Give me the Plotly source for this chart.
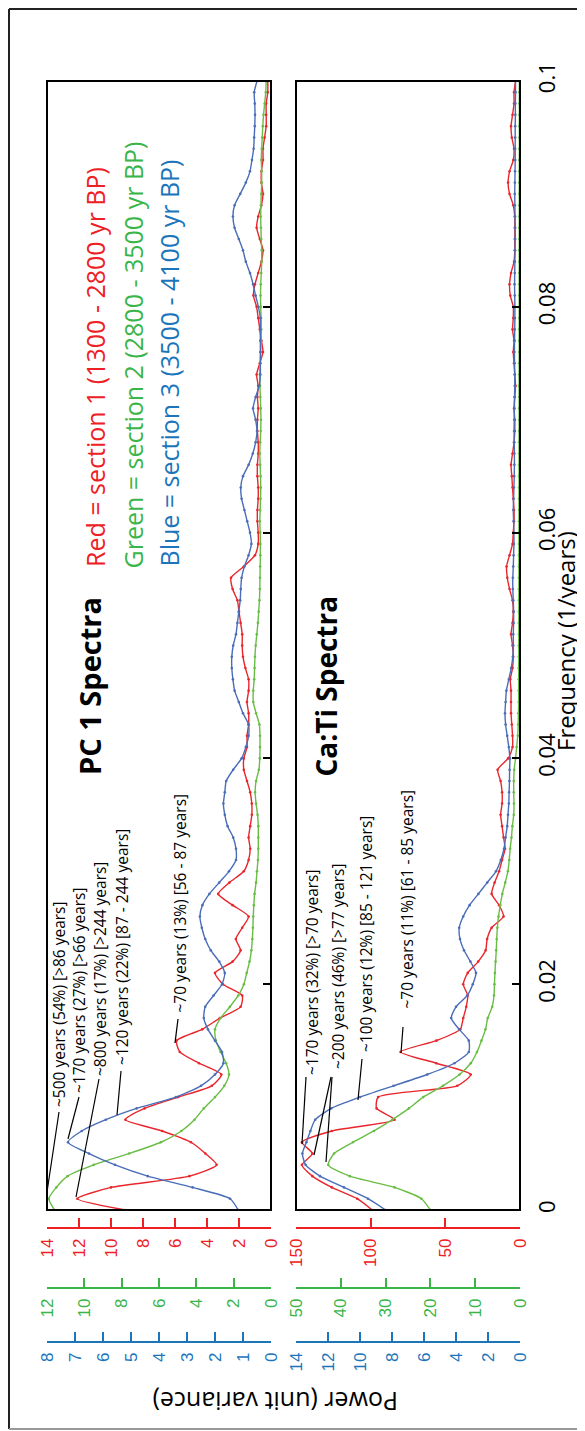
import plotly.graph_objects as go

# ---------------- data ----------------
FREQ = [0.000, 0.001, 0.002, 0.003, 0.004, 0.005, 0.006, 0.007, 0.008, 0.009,
        0.010, 0.011, 0.012, 0.013, 0.014, 0.015, 0.016, 0.017, 0.018, 0.019,
        0.020, 0.021, 0.022, 0.023, 0.024, 0.025, 0.026, 0.027, 0.028, 0.029,
        0.030, 0.031, 0.032, 0.033, 0.034, 0.035, 0.036, 0.037, 0.038, 0.039,
        0.040, 0.041, 0.042, 0.043, 0.044, 0.045, 0.046, 0.047, 0.048, 0.049,
        0.050, 0.051, 0.052, 0.053, 0.054, 0.055, 0.056, 0.057, 0.058, 0.059,
        0.060, 0.061, 0.062, 0.063, 0.064, 0.065, 0.066, 0.067, 0.068, 0.069,
        0.070, 0.071, 0.072, 0.073, 0.074, 0.075, 0.076, 0.077, 0.078, 0.079,
        0.080, 0.081, 0.082, 0.083, 0.084, 0.085, 0.086, 0.087, 0.088, 0.089,
        0.090, 0.091, 0.092, 0.093, 0.094, 0.095, 0.096, 0.097, 0.098, 0.099,
        0.100]

# PC 1 spectra
PC1_RED = [9.1, 12.1, 10.0, 5.1, 3.4, 4.1, 5.0, 6.8, 9.1, 7.9,
           5.8, 3.7, 3.1, 4.5, 5.7, 5.9, 4.3, 3.2, 1.9, 1.8,
           3.0, 3.5, 2.4, 1.9, 2.2, 1.8, 1.4, 2.4, 3.3, 2.6,
           1.7, 1.4, 1.3, 1.4, 1.3, 1.2, 1.2, 1.3, 1.5, 1.7,
           1.7, 1.5, 1.5, 1.4, 1.4, 1.5, 1.4, 1.4, 1.6, 1.75,
           1.8, 1.8, 1.9, 2.0, 2.1, 2.4, 2.5, 1.7, 1.0, 0.8,
           0.8, 0.85, 0.85, 0.8, 0.8, 0.85, 0.85, 0.8, 0.8, 0.85,
           0.85, 0.8, 0.85, 0.8, 0.9, 0.7, 0.5, 0.6, 0.7, 0.8,
           0.9, 1.1, 1.0, 0.8, 0.6, 0.5, 0.7, 0.9, 0.8, 0.6,
           0.5, 0.6, 0.6, 0.5, 0.5, 0.4, 0.3, 0.3, 0.3, 0.2,
           0.2]
PC1_GREEN = [11.6, 11.9, 11.5, 10.9, 9.5, 7.6, 5.9, 4.8, 4.1, 3.6,
             3.0, 2.5, 2.25, 2.4, 2.7, 2.95, 3.0, 2.7, 2.2, 1.75,
             1.45, 1.3, 1.15, 1.05, 1.0, 0.97, 0.95, 0.92, 0.88, 0.8,
             0.75, 0.7, 0.68, 0.68, 0.68, 0.72, 0.8, 0.85, 0.8, 0.65,
             0.6, 0.59, 0.59, 0.62, 0.8, 0.95, 0.95, 0.9, 0.88, 0.86,
             0.82, 0.76, 0.7, 0.66, 0.62, 0.6, 0.59, 0.58, 0.57, 0.57,
             0.58, 0.6, 0.58, 0.56, 0.55, 0.56, 0.58, 0.6, 0.58, 0.55,
             0.54, 0.55, 0.57, 0.59, 0.6, 0.58, 0.55, 0.53, 0.52, 0.53,
             0.55, 0.56, 0.55, 0.52, 0.5, 0.5, 0.52, 0.54, 0.55, 0.54,
             0.52, 0.5, 0.5, 0.52, 0.5, 0.47, 0.44, 0.4, 0.34, 0.28,
             0.26]
PC1_BLUE = [1.17, 1.46, 2.8, 4.4, 5.57, 6.5, 7.25, 6.76, 5.9, 4.8,
            3.4, 2.5, 2.0, 1.7, 1.75, 2.0, 2.25, 2.4, 2.35, 2.05,
            1.75, 1.65, 1.85, 2.15, 2.35, 2.47, 2.54, 2.45, 2.2, 1.85,
            1.5, 1.25, 1.25, 1.35, 1.55, 1.65, 1.7, 1.65, 1.6, 1.35,
            1.05, 0.9, 0.8, 0.8, 1.0, 1.15, 1.3, 1.36, 1.4, 1.4,
            1.35, 1.25, 1.2, 1.15, 1.1, 1.08, 1.05, 0.95, 0.8, 0.7,
            0.75, 0.85, 0.95, 1.05, 1.08, 1.0, 0.8, 0.65, 0.55, 0.5,
            0.55, 0.64, 0.55, 0.42, 0.38, 0.38, 0.38, 0.38, 0.38, 0.38,
            0.45, 0.55, 0.64, 0.75, 0.9, 1.0, 1.15, 1.3, 1.36, 1.3,
            1.1, 0.9, 0.75, 0.68, 0.62, 0.6, 0.58, 0.57, 0.58, 0.6,
            0.5]

# Ca:Ti spectra
CATI_RED = [99, 109, 126, 139, 146, 139, 146, 126, 84, 96,
            95, 42, 33, 56, 80, 56, 40, 38, 36, 35,
            38, 35, 28, 23, 22, 19, 11, 14, 19, 17,
            14, 12, 10, 11, 12, 13, 12, 12, 13, 15,
            8, 5, 5, 5.5, 6, 6, 6, 6.5, 5, 4.5,
            5, 6, 5, 4.5, 5, 7, 8.5, 9, 7, 5,
            4.5, 4, 4, 4.5, 5, 5.5, 6, 5, 4, 3.5,
            3.5, 4, 3.5, 3, 3.5, 4, 4.5, 4, 5, 4.5,
            4.5, 6.5, 7, 6, 4, 3.5, 3.5, 3.5, 3.5, 4.5,
            7, 8, 7, 4.5, 4, 5.5, 6, 5, 4, 4,
            3]
CATI_GREEN = [20, 22, 28, 38, 42.8, 41.5, 37.3, 32.6, 28.5, 24.8,
              21.6, 17.2, 13.5, 11, 9.6, 8.6, 7.7, 7.2, 6.2, 5.8,
              5.7, 5.6, 5.45, 5.3, 5.2, 5.05, 4.8, 4.4, 3.95, 3.3,
              2.7, 2.4, 2.2, 1.9, 1.7, 1.4, 1.35, 1.4, 1.4, 1.3,
              1.0, 0.75, 0.5, 0.4, 0.35, 0.3, 0.3, 0.3, 0.3, 0.28,
              0.28, 0.27, 0.27, 0.26, 0.26, 0.25, 0.25, 0.25, 0.24, 0.24,
              0.24, 0.23, 0.23, 0.23, 0.22, 0.22, 0.22, 0.21, 0.21, 0.21,
              0.2, 0.2, 0.2, 0.2, 0.2, 0.19, 0.19, 0.19, 0.19, 0.18,
              0.18, 0.18, 0.18, 0.18, 0.17, 0.17, 0.17, 0.17, 0.17, 0.16,
              0.16, 0.16, 0.16, 0.16, 0.15, 0.15, 0.15, 0.15, 0.15, 0.15,
              0.15]
CATI_BLUE = [8.4, 9.5, 11.0, 12.5, 13.4, 13.6, 13.35, 13.1, 12.8, 11.8,
             10.0, 7.9, 5.8, 4.1, 3.2, 3.2, 3.8, 4.3, 4.0, 3.3,
             2.95, 2.75, 3.1, 3.5, 3.75, 3.8, 3.55, 3.15, 2.6, 2.05,
             1.5, 1.2, 1.0, 0.9, 0.8, 0.75, 0.7, 0.68, 0.66, 0.65,
             0.63, 0.7, 0.8, 0.9, 0.94, 0.9, 0.85, 0.7, 0.55, 0.45,
             0.42, 0.42, 0.4, 0.4, 0.42, 0.45, 0.45, 0.42, 0.4, 0.38,
             0.38, 0.4, 0.42, 0.4, 0.38, 0.36, 0.35, 0.35, 0.36, 0.37,
             0.36, 0.35, 0.34, 0.33, 0.33, 0.34, 0.35, 0.34, 0.33, 0.32,
             0.32, 0.33, 0.34, 0.33, 0.32, 0.31, 0.3, 0.3, 0.31, 0.32,
             0.33, 0.32, 0.31, 0.3, 0.3, 0.3, 0.3, 0.29, 0.29, 0.28,
             0.28]

FREQ_TICKS = [0, 0.02, 0.04, 0.06, 0.08, 0.1]
FREQ_TICKTEXT = ["0", "0.02", "0.04", "0.06", "0.08", "0.1"]
PC1_RED_TICKS = [0, 2, 4, 6, 8, 10, 12, 14]
PC1_GREEN_TICKS = [0, 2, 4, 6, 8, 10, 12]
PC1_BLUE_TICKS = [0, 1, 2, 3, 4, 5, 6, 7, 8]
CATI_RED_TICKS = [0, 50, 100, 150]
CATI_GREEN_TICKS = [0, 10, 20, 30, 40, 50]
CATI_BLUE_TICKS = [0, 2, 4, 6, 8, 10, 12, 14]

LEGEND_LINES = ["Red = section 1 (1300 - 2800 yr BP)",
                "Green = section 2 (2800 - 3500 yr BP)",
                "Blue = section 3 (3500 - 4100 yr BP)"]
PC1_LABELS = ["~500 years (54%) [>86 years]",
              "~170 years (27%) [>66 years]",
              "~800 years (17%) [>244 years]",
              "~120 years (22%) [87 - 244 years]",
              "~70 years (13%) [56 - 87 years]"]
CATI_LABELS = ["~170 years (32%) [>70 years]",
               "~200 years (46%) [>77 years]",
               "~100 years (12%) [85 - 121 years]",
               "~70 years (11%) [61 - 85 years]"]

# ---------------- styling ----------------
# the page body adds an 8 px offset, so the figure is sized to fit the window
OFF = 8
W, H = 585 - OFF, 1431 - OFF
def PX(x):
    return (x - OFF) / W
def PY(y):
    return 1 - (y - OFF) / H

RED_AX, GREEN_AX, BLUE_AX = "#ED2024", "#3AB54A", "#1B75BB"
RED_LN, GREEN_LN, BLUE_LN = "#E8262C", "#69BD45", "#4A6DB8"
TXT_FONT = "Open Sans"
NUM_FONT = "Liberation Sans"

fig = go.Figure()

def add_series(xs, xaxis, yaxis, color):
    fig.add_trace(go.Scatter(
        x=xs, y=FREQ, xaxis=xaxis, yaxis=yaxis, mode="lines+markers",
        line=dict(color=color, width=1.4, shape="spline", smoothing=0.6),
        marker=dict(color=color, size=2.6), showlegend=False, hoverinfo="skip"))

add_series(PC1_GREEN, "x3", "y", GREEN_LN)
add_series(PC1_BLUE, "x4", "y", BLUE_LN)
add_series(PC1_RED, "x", "y", RED_LN)
add_series(CATI_GREEN, "x5", "y2", GREEN_LN)
add_series(CATI_BLUE, "x6", "y2", BLUE_LN)
add_series(CATI_RED, "x2", "y2", RED_LN)

LEFT_DOM = [PX(47), PX(271)]
RIGHT_DOM = [PX(296), PX(520)]
Y_DOM = [PY(1210), PY(81)]

def power_axis(color, rng, ticks, pos, domain=None, overlay=None):
    d = dict(range=rng, anchor="free", position=pos, side="bottom",
             showline=True, linecolor=color, linewidth=1.6,
             ticks="inside", ticklen=9, tickwidth=1.6, tickcolor=color,
             tickvals=ticks, ticktext=[str(t) for t in ticks],
             tickangle=-90, ticklabelstandoff=3,
             tickfont=dict(family=NUM_FONT, size=17, color=color),
             showgrid=False, zeroline=False, automargin=False)
    if domain is not None:
        d["domain"] = domain
    if overlay is not None:
        d["overlaying"] = overlay
    return d

layout = dict(
    template="none",
    width=W, height=H, margin=dict(l=0, r=0, t=0, b=0, pad=0, autoexpand=False),
    paper_bgcolor="white", plot_bgcolor="rgba(0,0,0,0)", showlegend=False,
    font=dict(family=TXT_FONT, color="black"),
    xaxis=power_axis(RED_AX, [14, 0], PC1_RED_TICKS, PY(1228), domain=LEFT_DOM),
    xaxis3=power_axis(GREEN_AX, [12, 0], PC1_GREEN_TICKS, PY(1288), overlay="x"),
    xaxis4=power_axis(BLUE_AX, [8, 0], PC1_BLUE_TICKS, PY(1342), overlay="x"),
    xaxis2=power_axis(RED_AX, [150, 0], CATI_RED_TICKS, PY(1228), domain=RIGHT_DOM),
    xaxis5=power_axis(GREEN_AX, [50, 0], CATI_GREEN_TICKS, PY(1288), overlay="x2"),
    xaxis6=power_axis(BLUE_AX, [14, 0], CATI_BLUE_TICKS, PY(1342), overlay="x2"),
    yaxis=dict(domain=Y_DOM, range=[0, 0.1], anchor="x", side="right",
               showline=False, ticks="inside", ticklen=8, tickwidth=1.5,
               tickcolor="black", tickvals=FREQ_TICKS, showticklabels=False,
               showgrid=False, zeroline=False, automargin=False),
    yaxis2=dict(domain=Y_DOM, range=[0, 0.1], anchor="x2", side="right",
                showline=False, ticks="inside", ticklen=8, tickwidth=1.5,
                tickcolor="black", tickvals=FREQ_TICKS, ticktext=FREQ_TICKTEXT,
                tickangle=-90, ticklabelstandoff=12,
                tickfont=dict(family=TXT_FONT, size=22, color="black"),
                showgrid=False, zeroline=False, automargin=False),
)
fig.update_layout(**layout)

shapes = [
    dict(type="rect", xref="x domain", yref="y domain", x0=0, x1=1, y0=0, y1=1,
         line=dict(color="black", width=2)),
    dict(type="rect", xref="x2 domain", yref="y2 domain", x0=0, x1=1, y0=0, y1=1,
         line=dict(color="black", width=2)),
    dict(type="line", xref="paper", yref="paper", x0=PX(9), x1=PX(9), y0=PY(9), y1=PY(1429),
         line=dict(color="#222", width=2)),
    dict(type="line", xref="paper", yref="paper", x0=PX(9), x1=1.0, y0=PY(9), y1=PY(9),
         line=dict(color="#222", width=2)),
    dict(type="line", xref="paper", yref="paper", x0=PX(9), x1=1.0, y0=PY(1429), y1=PY(1429),
         line=dict(color="#999", width=2)),
]

# leader lines (pixel positions of label foot -> spectral peak)
leaders = [
    ((59, 1112), (47, 1192)),
    ((79, 1097), (68, 1139)),
    ((99, 1079), (76, 1197)),
    ((121, 1071), (117, 1115)),
    ((178, 1019), (175, 1043)),
    ((306, 1077), (302, 1144)),
    ((331, 1077), (314, 1155)),
    ((332, 1077), (326, 1162)),
    ((362, 1059), (358, 1100)),
    ((403, 1027), (401, 1053)),
]
for (xa, ya), (xb, yb) in leaders:
    shapes.append(dict(type="line", xref="paper", yref="paper",
                       x0=PX(xa), y0=PY(ya), x1=PX(xb), y1=PY(yb),
                       line=dict(color="black", width=1.2)))
fig.update_layout(shapes=shapes)

ann = []
def text_at(txt, x, y, size, color="black", angle=-90, bold=False, xanchor="center",
            yanchor="bottom", family=TXT_FONT):
    t = "<b>%s</b>" % txt if bold else txt
    ann.append(dict(text=t, x=PX(x), y=PY(y), xref="paper", yref="paper",
                    showarrow=False, textangle=angle, xanchor=xanchor, yanchor=yanchor,
                    borderpad=0, font=dict(family=family, size=size, color=color)))

# legend block
text_at(LEGEND_LINES[0], 95, 568, 25, RED_AX)
text_at(LEGEND_LINES[1], 132, 570, 25, GREEN_AX)
text_at(LEGEND_LINES[2], 168, 568, 25, BLUE_AX)
# panel titles
text_at("PC 1 Spectra", 90, 776, 29, bold=True)
text_at("Ca:Ti Spectra", 325, 778, 28, bold=True)
# peak labels
for lab, (x, y) in zip(PC1_LABELS, [(59, 1108), (79, 1094), (100, 1077), (122, 1066), (180, 1014)]):
    text_at(lab, x, y, 15.5)
for lab, (x, y) in zip(CATI_LABELS, [(312, 1076), (338, 1070), (366, 1053), (406, 1010)]):
    text_at(lab, x, y, 15.5)
# axis titles
text_at("Frequency (1/years)", 566, 641, 24, yanchor="middle")
text_at("Power (unit variance)", 276, 1402, 25, angle=180, yanchor="middle")

fig.update_layout(annotations=ann)
fig.write_html("out.html")
